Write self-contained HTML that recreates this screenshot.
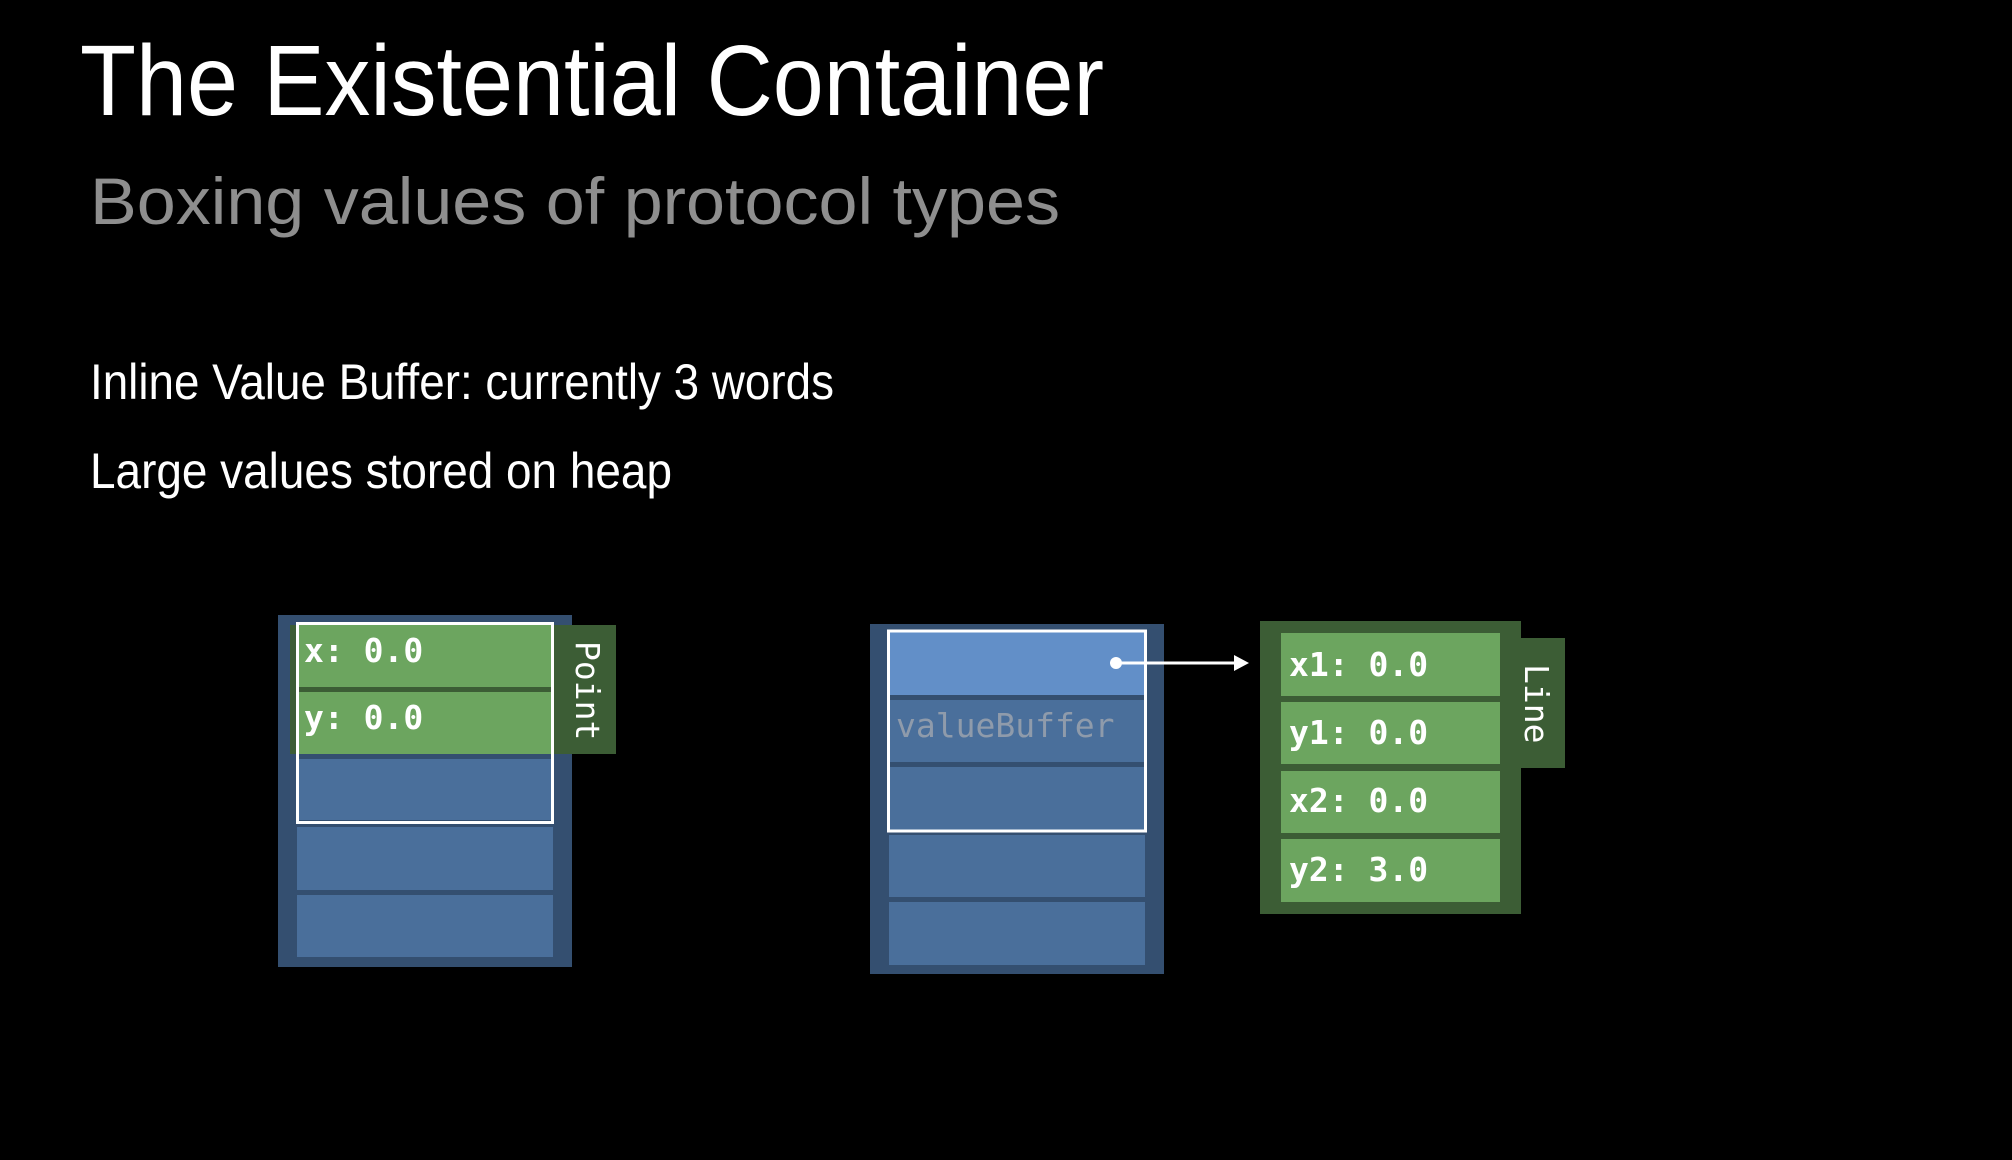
<!DOCTYPE html>
<html><head><meta charset="utf-8"><style>
html,body{margin:0;padding:0;background:#000;width:2012px;height:1160px;overflow:hidden}
svg{display:block}
.t{font-family:"Liberation Sans",sans-serif}
.m{font-family:"DejaVu Sans Mono","Liberation Mono",monospace}
</style></head><body>
<svg width="2012" height="1160" viewBox="0 0 2012 1160" xmlns="http://www.w3.org/2000/svg">
<rect width="2012" height="1160" fill="#000"/>
<text class="t" x="80" y="115" font-size="100" fill="#fff" textLength="1024" lengthAdjust="spacingAndGlyphs">The Existential Container</text>
<text class="t" x="90" y="224" font-size="66" fill="#8e8e8e" textLength="970" lengthAdjust="spacingAndGlyphs">Boxing values of protocol types</text>
<text class="t" x="90" y="399" font-size="50" fill="#fff" textLength="744" lengthAdjust="spacingAndGlyphs">Inline Value Buffer: currently 3 words</text>
<text class="t" x="90" y="488" font-size="50" fill="#fff" textLength="582" lengthAdjust="spacingAndGlyphs">Large values stored on heap</text>

<!-- Left container -->
<rect x="278" y="615" width="294" height="352" fill="#344f70"/>
<rect x="290" y="625" width="326" height="129" fill="#3c5d35"/>
<rect x="297" y="625" width="254" height="62" fill="#6ca55f"/>
<rect x="297" y="692" width="254" height="62" fill="#6ca55f"/>
<rect x="297" y="759" width="256" height="61" fill="#4a6f9b"/>
<rect x="297" y="827" width="256" height="63" fill="#4a6f9b"/>
<rect x="297" y="895" width="256" height="62" fill="#4a6f9b"/>
<rect x="297.5" y="623.5" width="255" height="199" fill="none" stroke="#fff" stroke-width="3"/>
<text class="m" x="304" y="662" font-size="33" font-weight="bold" fill="#fff">x: 0.0</text>
<text class="m" x="304" y="729" font-size="33" font-weight="bold" fill="#fff">y: 0.0</text>
<text class="m" transform="translate(576,641) rotate(90)" font-size="33" fill="#fff">Point</text>

<!-- Right container -->
<rect x="870" y="624" width="294" height="350" fill="#344f70"/>
<rect x="889" y="632" width="256" height="63" fill="#628fc8"/>
<rect x="889" y="700" width="256" height="62" fill="#4a6f9b"/>
<rect x="889" y="767" width="256" height="63" fill="#4a6f9b"/>
<rect x="889" y="835" width="256" height="62" fill="#4a6f9b"/>
<rect x="889" y="902" width="256" height="63" fill="#4a6f9b"/>
<rect x="888.5" y="631" width="257" height="200" fill="none" stroke="#fff" stroke-width="3"/>
<text class="m" x="896" y="737" font-size="33" fill="#8f9bab">valueBuffer</text>
<circle cx="1116" cy="663" r="6" fill="#fff"/>
<line x1="1116" y1="663" x2="1236" y2="663" stroke="#fff" stroke-width="3"/>
<polygon points="1234,655 1249,663 1234,671" fill="#fff"/>

<!-- Line box -->
<rect x="1260" y="621" width="261" height="293" fill="#3c5d35"/>
<rect x="1515" y="638" width="50" height="130" fill="#3c5d35"/>
<rect x="1281" y="633" width="219" height="63" fill="#6ca55f"/>
<rect x="1281" y="702" width="219" height="62" fill="#6ca55f"/>
<rect x="1281" y="771" width="219" height="62" fill="#6ca55f"/>
<rect x="1281" y="839" width="219" height="63" fill="#6ca55f"/>
<text class="m" x="1289" y="676" font-size="33" font-weight="bold" fill="#fff">x1: 0.0</text>
<text class="m" x="1289" y="744" font-size="33" font-weight="bold" fill="#fff">y1: 0.0</text>
<text class="m" x="1289" y="812" font-size="33" font-weight="bold" fill="#fff">x2: 0.0</text>
<text class="m" x="1289" y="881" font-size="33" font-weight="bold" fill="#fff">y2: 3.0</text>
<text class="m" transform="translate(1525,664) rotate(90)" font-size="33" fill="#fff">Line</text>
</svg>
</body></html>
